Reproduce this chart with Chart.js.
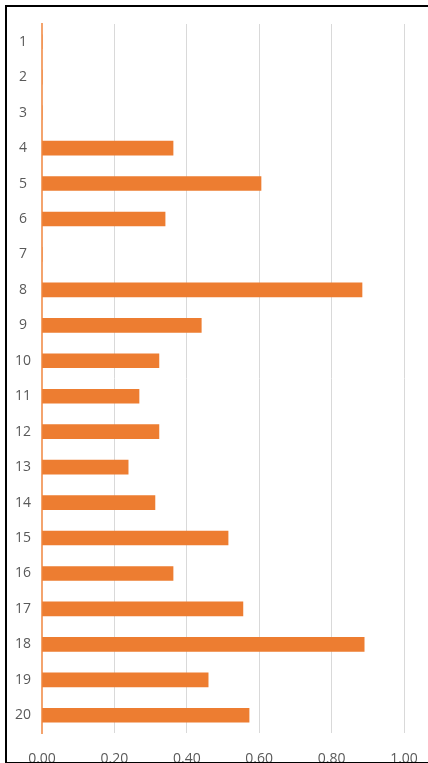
<!DOCTYPE html>
<html>
<head>
<meta charset="utf-8">
<script src="https://cdn.jsdelivr.net/npm/chart.js@4"></script>
<style>
  html, body { margin: 0; padding: 0; background: #fff; overflow: hidden; }
  #wrap { position: relative; width: 428px; height: 763px; }
  #frame { position: absolute; left: 5px; top: 5px; width: 440px; height: 755px;
           border: 2px solid #000; pointer-events: none; }
</style>
</head>
<body>
<div id="wrap">
  <canvas id="chart" width="428" height="763"></canvas>
  <div id="frame"></div>
</div>
<script>
const categorias = ["1","2","3","4","5","6","7","8","9","10","11","12","13","14","15","16","17","18","19","20"];
const valores = [0, 0, 0, 0.362, 0.605, 0.34, 0, 0.884, 0.44, 0.323, 0.268, 0.323, 0.238, 0.312, 0.514, 0.362, 0.555, 0.89, 0.459, 0.572];

const ctx = document.getElementById("chart").getContext("2d");
new Chart(ctx, {
  type: "bar",
  data: {
    labels: categorias,
    datasets: [{ data: valores, backgroundColor: "#ED7D31", barThickness: 14 }]
  },
  options: {
    indexAxis: "y",
    responsive: false,
    animation: false,
    layout: { padding: { top: 24, right: 24, left: 0, bottom: 0 } },
    plugins: { legend: { display: false }, tooltip: { enabled: false } },
    scales: {
      x: {
        min: 0, max: 1,
        ticks: { stepSize: 0.2, color: "#595959", font: { family: "Open Sans", size: 14 },
                 padding: 18, callback: (v) => Number(v).toFixed(2) },
        grid: { color: "#d9d9d9", lineWidth: 1, drawTicks: false },
        border: { display: false },
        afterFit: (s) => { s.height = 30; s.paddingRight = 0; s.paddingLeft = 0; }
      },
      y: {
        ticks: { color: "#595959", font: { family: "Open Sans", size: 14 }, crossAlign: "center", padding: 3 },
        grid: { display: false },
        border: { color: "#F4A46E", width: 2 },
        afterFit: (s) => { s.width = 42; }
      }
    }
  }
});
</script>
</body>
</html>
